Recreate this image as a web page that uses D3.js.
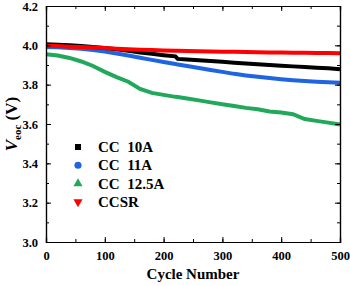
<!DOCTYPE html>
<html>
<head>
<meta charset="utf-8">
<script src="https://cdn.jsdelivr.net/npm/d3@7"></script>
<style>
  body { margin: 0; background: #fff; }
  text { font-family: "Liberation Serif", "Times New Roman", serif; font-weight: bold; }
</style>
</head>
<body>
<div id="chart"></div>
<script>
var cycles = [0, 20, 40, 60, 80, 100, 120, 140, 160, 180, 200, 220, 224, 240, 260, 280, 300, 320, 340, 360, 380, 400, 420, 440, 460, 480, 500];
var cc10 = [4.006, 4.003, 4.000, 3.996, 3.992, 3.987, 3.980, 3.972, 3.964, 3.957, 3.950, 3.944, 3.931, 3.928, 3.924, 3.920, 3.916, 3.912, 3.908, 3.904, 3.900, 3.896, 3.893, 3.890, 3.886, 3.883, 3.879];
var cc11 = [3.992, 3.990, 3.987, 3.982, 3.976, 3.968, 3.958, 3.948, 3.937, 3.926, 3.915, 3.905, 3.903, 3.895, 3.885, 3.875, 3.865, 3.855, 3.847, 3.840, 3.834, 3.828, 3.823, 3.819, 3.815, 3.812, 3.810];
var cc125 = [3.955, 3.948, 3.936, 3.918, 3.895, 3.865, 3.838, 3.815, 3.778, 3.758, 3.748, 3.738, 3.737, 3.730, 3.720, 3.710, 3.700, 3.692, 3.682, 3.675, 3.664, 3.658, 3.650, 3.625, 3.616, 3.607, 3.597];
var ccsr = [3.998, 3.996, 3.993, 3.991, 3.989, 3.986, 3.983, 3.980, 3.978, 3.976, 3.974, 3.972, 3.972, 3.971, 3.970, 3.969, 3.968, 3.967, 3.966, 3.965, 3.964, 3.963, 3.962, 3.962, 3.961, 3.961, 3.960];
var seriesNames = ["CC  10A", "CC  11A", "CC  12.5A", "CCSR"];
var seriesColors = ["#000000", "#1f64e0", "#22a85a", "#ff0000"];
var xTicks = [0, 100, 200, 300, 400, 500];
var yTicks = [3.0, 3.2, 3.4, 3.6, 3.8, 4.0, 4.2];

var W = 350, H = 286;
var margin = {top: 6, right: 10, bottom: 44, left: 46};
var width = W - margin.left - margin.right,
  height = H - margin.top - margin.bottom;

var svg = d3.select("#chart").append("svg")
  .attr("width", W).attr("height", H);
var g = svg.append("g")
  .attr("transform", "translate(" + margin.left + "," + margin.top + ")");

var x = d3.scaleLinear().domain([0, 500]).range([0, width]);
var y = d3.scaleLinear().domain([3.0, 4.2]).range([height, 0]);

/* series lines */
var allSeries = [cc10, cc11, cc125, ccsr];
var line = d3.line()
  .x(function(d, i) { return x(cycles[i]); })
  .y(function(d) { return y(d); });
// draw order: green, blue, black, red on top
[2, 1, 0, 3].forEach(function(k) {
  g.append("path")
    .datum(allSeries[k])
    .attr("fill", "none")
    .attr("stroke", seriesColors[k])
    .attr("stroke-width", 4)
    .attr("d", line);
});

/* axes with inward ticks on all sides */
var minorX = d3.range(0, 501, 50), minorY = d3.range(3.0, 4.21, 0.1);
function styleAxis(sel) {
  sel.attr("font-family", null);
  sel.select(".domain").attr("stroke", "#000").attr("stroke-width", 1.2);
  sel.selectAll(".tick line").attr("stroke", "#000").attr("stroke-width", 1);
  sel.selectAll("text").attr("font-size", "12.5px").attr("fill", "#000");
}
g.append("g").attr("transform", "translate(0," + height + ")")
  .call(d3.axisBottom(x).tickValues(xTicks).tickSize(-5).tickPadding(9).tickFormat(d3.format("d")))
  .call(styleAxis);
g.append("g").attr("transform", "translate(0," + height + ")")
  .call(d3.axisBottom(x).tickValues(minorX).tickSize(-3).tickFormat(""))
  .call(styleAxis);
g.append("g")
  .call(d3.axisTop(x).tickValues(xTicks).tickSize(-5).tickFormat(""))
  .call(styleAxis);
g.append("g")
  .call(d3.axisTop(x).tickValues(minorX).tickSize(-3).tickFormat(""))
  .call(styleAxis);
g.append("g")
  .call(d3.axisLeft(y).tickValues(yTicks).tickSize(-5).tickPadding(8).tickFormat(d3.format(".1f")))
  .call(styleAxis);
g.append("g")
  .call(d3.axisLeft(y).tickValues(minorY).tickSize(-3).tickFormat(""))
  .call(styleAxis);
g.append("g").attr("transform", "translate(" + width + ",0)")
  .call(d3.axisRight(y).tickValues(yTicks).tickSize(-5).tickFormat(""))
  .call(styleAxis);
g.append("g").attr("transform", "translate(" + width + ",0)")
  .call(d3.axisRight(y).tickValues(minorY).tickSize(-3).tickFormat(""))
  .call(styleAxis);

/* axis titles */
g.append("text")
  .attr("x", width / 2).attr("y", height + 37)
  .attr("text-anchor", "middle")
  .attr("font-size", "15px")
  .text("Cycle Number");

var yl = svg.append("text")
  .attr("transform", "translate(17," + (margin.top + height / 2) + ") rotate(-90)")
  .attr("text-anchor", "middle")
  .attr("font-size", "17px");
yl.append("tspan").attr("font-style", "italic").text("V");
yl.append("tspan").attr("font-size", "11px").attr("dy", 4).text("eoc");
yl.append("tspan").attr("dy", -4).text(" (V)");

/* legend */
var symbols = [d3.symbolSquare, d3.symbolCircle, d3.symbolTriangle, d3.symbolTriangle];
var legend = g.append("g").attr("transform", "translate(32,141)");
seriesNames.forEach(function(name, i) {
  var row = legend.append("g").attr("transform", "translate(0," + (i * 18.3) + ")");
  row.append("path")
    .attr("d", d3.symbol().type(symbols[i]).size(i === 1 ? 40 : 36)())
    .attr("transform", i === 3 ? "rotate(180)" : null)
    .attr("fill", seriesColors[i]);
  row.append("text")
    .attr("x", 20).attr("y", 5)
    .attr("font-size", "15px")
    .style("white-space", "pre")
    .text(name);
});
</script>
</body>
</html>
